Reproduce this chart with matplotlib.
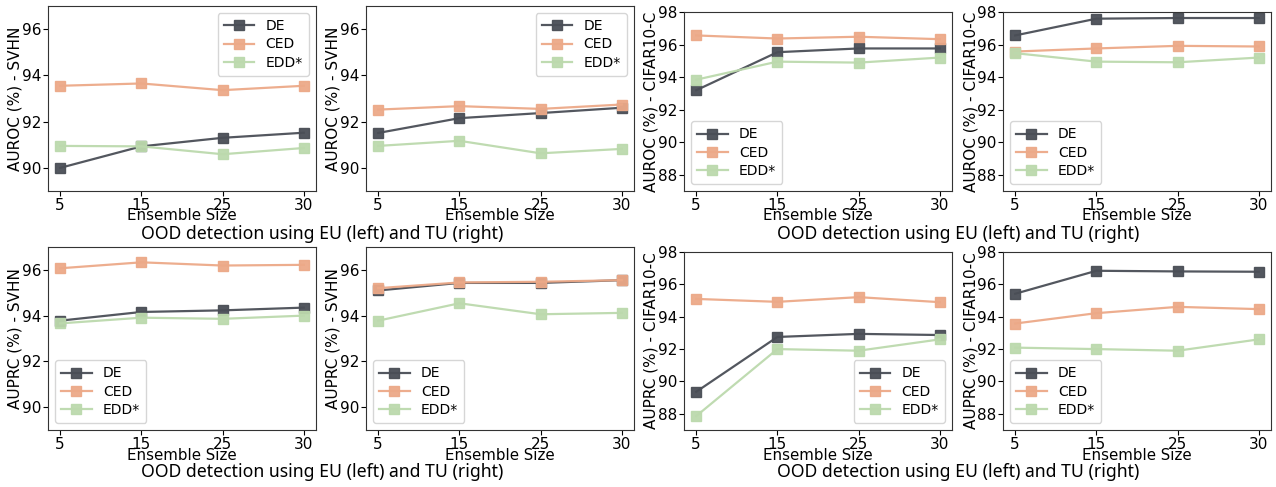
import matplotlib.pyplot as plt

sizes = ["5", "15", "25", "30"]
methods = ["DE", "CED", "EDD*"]
colors = ["#4a4e56", "#eca988", "#bcd9ad"]

# AUROC - SVHN, EU (left) / TU (right)
auroc_svhn_eu = [[90.0, 90.93, 91.3, 91.52],
                 [93.55, 93.65, 93.36, 93.55],
                 [90.95, 90.93, 90.59, 90.86]]
auroc_svhn_tu = [[91.51, 92.15, 92.37, 92.6],
                 [92.52, 92.67, 92.55, 92.74],
                 [90.95, 91.17, 90.63, 90.82]]
# AUROC - CIFAR10-C
auroc_cifar_eu = [[93.19, 95.53, 95.76, 95.76],
                  [96.56, 96.37, 96.48, 96.33],
                  [93.84, 94.95, 94.89, 95.2]]
auroc_cifar_tu = [[96.56, 97.59, 97.63, 97.63],
                  [95.57, 95.76, 95.92, 95.88],
                  [95.47, 94.95, 94.91, 95.2]]
# AUPRC - SVHN
auprc_svhn_eu = [[93.78, 94.16, 94.23, 94.35],
                 [96.07, 96.33, 96.19, 96.22],
                 [93.66, 93.91, 93.86, 94.0]]
auprc_svhn_tu = [[95.1, 95.43, 95.43, 95.55],
                 [95.2, 95.45, 95.48, 95.55],
                 [93.78, 94.54, 94.06, 94.12]]
# AUPRC - CIFAR10-C
auprc_cifar_eu = [[89.36, 92.75, 92.94, 92.87],
                  [95.1, 94.92, 95.21, 94.9],
                  [87.86, 92.0, 91.9, 92.6]]
auprc_cifar_tu = [[95.42, 96.84, 96.8, 96.78],
                  [93.58, 94.22, 94.61, 94.47],
                  [92.09, 92.0, 91.9, 92.6]]

panels = [
    (auroc_svhn_eu, "AUROC (%) - SVHN", (89, 97), [90, 92, 94, 96], "upper right"),
    (auroc_svhn_tu, "AUROC (%) - SVHN", (89, 97), [90, 92, 94, 96], "upper right"),
    (auroc_cifar_eu, "AUROC (%) - CIFAR10-C", (87, 98), [88, 90, 92, 94, 96, 98], "lower left"),
    (auroc_cifar_tu, "AUROC (%) - CIFAR10-C", (87, 98), [88, 90, 92, 94, 96, 98], "lower left"),
    (auprc_svhn_eu, "AUPRC (%) - SVHN", (89, 97), [90, 92, 94, 96], "lower left"),
    (auprc_svhn_tu, "AUPRC (%) - SVHN", (89, 97), [90, 92, 94, 96], "lower left"),
    (auprc_cifar_eu, "AUPRC (%) - CIFAR10-C", (87, 98), [88, 90, 92, 94, 96, 98], "lower right"),
    (auprc_cifar_tu, "AUPRC (%) - CIFAR10-C", (87, 98), [88, 90, 92, 94, 96, 98], "lower left"),
]

W, H = 1276, 487
lefts = [48, 366, 684, 1003]
tops = [[6, 6, 12, 12], [247, 247, 252, 252]]
bottoms = [191, 430]

fig = plt.figure(figsize=(12.76, 4.87), dpi=100)
for i, (data, ylabel, ylim, yticks, loc) in enumerate(panels):
    r, c = divmod(i, 4)
    top = tops[r][c]
    bot = bottoms[r]
    h = bot - top
    ax = fig.add_axes([lefts[c] / W, 1 - bot / H, 268 / W, h / H])
    x = range(len(sizes))
    for vals, name, col in zip(data, methods, colors):
        ax.plot(x, vals, marker="s", markersize=7, linewidth=1.6,
                color=col, label=name, alpha=0.95)
    ax.set_xticks(list(x))
    ax.set_xticklabels(sizes)
    ax.set_xlim(-0.15, 3.15)
    ax.set_ylim(*ylim)
    ax.set_yticks(yticks)
    ax.tick_params(labelsize=11, length=3.5, pad=1.5)
    ax.set_ylabel(ylabel, fontsize=11)
    ax.yaxis.set_label_coords(-25 / 268, 0.5)
    ax.set_xlabel("Ensemble Size", fontsize=10.8)
    ax.xaxis.set_label_coords(0.5, -25 / h)
    ax.xaxis.label.set_va("center")
    for s in ax.spines.values():
        s.set_color("#333333")
    ax.legend(loc=loc, fontsize=10, handlelength=2.2, borderpad=0.45,
              labelspacing=0.3, handletextpad=0.8)

for cx, cy in [(322, 234), (958, 234), (322, 472), (958, 472)]:
    fig.text(cx / W, 1 - cy / H, "OOD detection using EU (left) and TU (right)",
             ha="center", va="center", fontsize=12.7, family="Noto Sans")

fig.savefig("out.png", dpi=100)
